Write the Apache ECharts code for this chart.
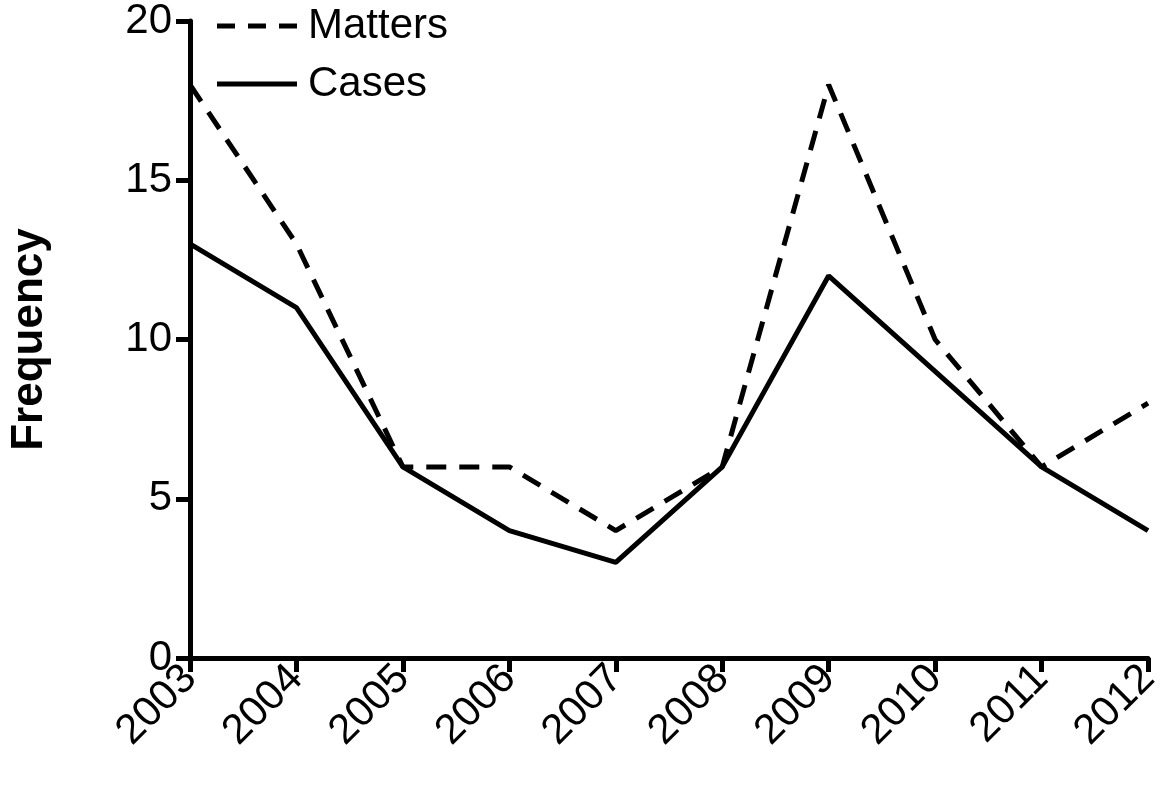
<!DOCTYPE html>
<html>
<head>
<meta charset="utf-8">
<script src="https://cdn.jsdelivr.net/npm/echarts@6/dist/echarts.min.js"></script>
<style>html,body{margin:0;background:#fff}#echarts{width:1166px;height:800px}</style>
</head>
<body>
<div id="echarts"></div>
<script>
var years = ['2003', '2004', '2005', '2006', '2007', '2008', '2009', '2010', '2011', '2012'];
var matters = [18, 13, 6, 6, 4, 6, 18, 10, 6, 8];
var cases = [13, 11, 6, 4, 3, 6, 12, 9, 6, 4];

var myChart = echarts.init(document.getElementById('echarts')),
    font = 'Liberation Sans, Arial, sans-serif',
    option = {
        animation: false,
        legend: {
            orient: 'vertical',
            left: 212,
            top: 0,
            itemWidth: 80,
            itemHeight: 5,
            itemGap: 16,
            textStyle: {fontSize: 42, fontFamily: font, color: '#000', padding: [0, 0, 0, 6]},
            data: [
                {name: 'Matters', icon: 'path://M0,0H18V5H0ZM31,0H49V5H31ZM62,0H80V5H62Z'},
                {name: 'Cases', icon: 'path://M0,0H80V5H0Z'}
            ]
        },
        grid: {left: 183, right: 18, top: 17, bottom: 142},
        xAxis: {
            type: 'category',
            boundaryGap: false,
            data: years,
            axisLine: {lineStyle: {color: '#000', width: 5}},
            axisTick: {length: 14, lineStyle: {width: 5}},
            axisLabel: {rotate: 45, fontSize: 42, fontFamily: font, color: '#000', margin: 14}
        },
        yAxis: {
            type: 'value',
            min: 0,
            max: 20,
            interval: 5,
            name: 'Frequency',
            nameLocation: 'middle',
            nameGap: 138,
            nameTextStyle: {fontSize: 44, fontWeight: 'bold', fontFamily: font, color: '#000'},
            splitLine: {show: false},
            axisLine: {show: true, lineStyle: {color: '#000', width: 5}},
            axisTick: {show: true, length: 14, lineStyle: {width: 5}},
            axisLabel: {fontSize: 42, fontFamily: font, color: '#000', margin: 18}
        },
        series: [
            {
                name: 'Matters',
                type: 'line',
                data: matters,
                symbol: 'none',
                lineStyle: {color: '#000', width: 5, type: [20, 13]},
                itemStyle: {color: '#000'}
            }, {
                name: 'Cases',
                type: 'line',
                data: cases,
                symbol: 'none',
                lineStyle: {color: '#000', width: 5},
                itemStyle: {color: '#000'}
            }
        ]
    };
myChart.setOption(option);
</script>
</body>
</html>
